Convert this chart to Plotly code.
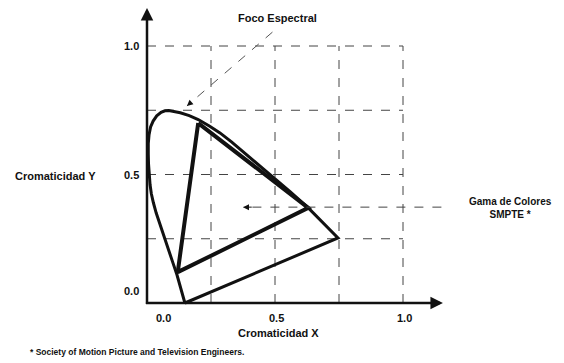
import plotly.graph_objects as go

# ---- data ----
locus_x = [0.148, 0.130, 0.117, 0.100, 0.083, 0.066, 0.050, 0.036, 0.025, 0.017, 0.012, 0.008,
           0.006, 0.005, 0.005, 0.008, 0.014, 0.024, 0.038, 0.055, 0.070, 0.085, 0.105, 0.130,
           0.165, 0.200, 0.245, 0.285, 0.330, 0.400, 0.445, 0.490, 0.560, 0.630, 0.746, 0.148]
locus_y = [0.000, 0.065, 0.110, 0.160, 0.210, 0.260, 0.310, 0.350, 0.390, 0.425, 0.460, 0.500,
           0.540, 0.580, 0.620, 0.655, 0.685, 0.708, 0.728, 0.742, 0.748, 0.749, 0.746, 0.740,
           0.729, 0.714, 0.688, 0.662, 0.627, 0.568, 0.530, 0.492, 0.432, 0.370, 0.253, 0.000]

smpte_x = [0.200, 0.630, 0.120, 0.200]
smpte_y = [0.700, 0.370, 0.120, 0.700]

grid_vals = [0.25, 0.5, 0.75, 1.0]
x_tick_vals = [0.0, 0.5, 1.0]
x_tick_text = ["0.0", "0.5", "1.0"]
y_tick_vals = [0.0, 0.5, 1.0]
y_tick_text = ["0.0", "0.5", "1.0"]

title_text = "Foco Espectral"
gamut_text = "Gama de Colores<br>SMPTE *"
x_title = "Cromaticidad X"
y_title = "Cromaticidad Y"
footnote = "* Society of Motion Picture and Television Engineers."

FONT = "Liberation Sans, Arial, sans-serif"
INK = "#111111"

# page has an 8px body margin: figure is drawn 8px in from the window corner
W, H = 556, 355
X0_PX, Y0_PX = 139, 295      # figure pixels of the data origin
PX_PER_X, PX_PER_Y = 256, 257

fig = go.Figure()

fig.add_trace(go.Scatter(x=locus_x, y=locus_y, mode="lines",
                         line=dict(color=INK, width=3),
                         hoverinfo="skip", showlegend=False))
fig.add_trace(go.Scatter(x=smpte_x, y=smpte_y, mode="lines",
                         line=dict(color=INK, width=4),
                         hoverinfo="skip", showlegend=False))

shapes = []
for v in grid_vals:
    shapes.append(dict(type="line", xref="x", yref="y", x0=0, x1=1.0, y0=v, y1=v,
                       line=dict(color="#444444", width=1, dash="dash"), layer="below"))
    shapes.append(dict(type="line", xref="x", yref="y", x0=v, x1=v, y0=0, y1=1.0,
                       line=dict(color="#444444", width=1, dash="dash"), layer="below"))

# leader line for "Foco Espectral"
foco_tail = (0.49, 1.054)
foco_head = (0.156, 0.767)
shapes.append(dict(type="line", xref="x", yref="y", x0=foco_tail[0], y0=foco_tail[1],
                   x1=foco_head[0], y1=foco_head[1],
                   line=dict(color="#555555", width=1, dash="dash")))
# leader line for gamut label
gam_tail = (1.15, 0.373)
gam_head = (0.375, 0.373)
shapes.append(dict(type="line", xref="x", yref="y", x0=gam_tail[0], y0=gam_tail[1],
                   x1=gam_head[0], y1=gam_head[1],
                   line=dict(color="#444444", width=1, dash="dash")))
fig.update_layout(shapes=shapes)

ann = []
# axes with arrows
ann.append(dict(x=0, y=1.148, ax=0, ay=-0.01, xref="x", yref="y", axref="x", ayref="y",
                showarrow=True, arrowhead=2, arrowsize=1, arrowwidth=2.5, arrowcolor=INK, text=""))
ann.append(dict(x=1.156, y=0, ax=-0.01, ay=0, xref="x", yref="y", axref="x", ayref="y",
                showarrow=True, arrowhead=2, arrowsize=1, arrowwidth=2.5, arrowcolor=INK, text=""))
# small arrow heads of the leaders
fx = foco_head[0] + 0.06 * (foco_tail[0] - foco_head[0])
fy = foco_head[1] + 0.06 * (foco_tail[1] - foco_head[1])
ann.append(dict(x=foco_head[0], y=foco_head[1], ax=fx, ay=fy, xref="x", yref="y",
                axref="x", ayref="y", showarrow=True, arrowhead=2, arrowsize=1.2,
                arrowwidth=1, arrowcolor=INK, text=""))
ann.append(dict(x=gam_head[0], y=gam_head[1], ax=gam_head[0] + 0.04, ay=gam_head[1], xref="x",
                yref="y", axref="x", ayref="y", showarrow=True, arrowhead=2, arrowsize=1.2,
                arrowwidth=1, arrowcolor=INK, text=""))

tf = dict(family=FONT, size=11, color=INK)
for v, t in zip(x_tick_vals, x_tick_text):
    ann.append(dict(x=v, y=0, xref="x", yref="y", text="<b>%s</b>" % t, showarrow=False,
                    yshift=-15, xshift=16 if v == 0 else 1, font=tf))
for v, t in zip(y_tick_vals, y_tick_text):
    ann.append(dict(x=0, y=v, xref="x", yref="y", text="<b>%s</b>" % t, showarrow=False,
                    xanchor="right", xshift=-6, yshift=12 if v == 0 else 0, font=tf))

ann.append(dict(x=0.508, y=1.109, xref="x", yref="y", text="<b>%s</b>" % title_text,
                showarrow=False, font=tf))
ann.append(dict(x=-0.359, y=0.494, xref="x", yref="y", text="<b>%s</b>" % y_title,
                showarrow=False, font=tf))
ann.append(dict(x=0.512, y=-0.117, xref="x", yref="y", text="<b>%s</b>" % x_title,
                showarrow=False, font=tf))
ann.append(dict(x=1.42, y=0.368, xref="x", yref="y", text="<b>%s</b>" % gamut_text,
                showarrow=False, font=dict(family=FONT, size=10, color=INK)))
ann.append(dict(x=-0.465, y=-0.19, xref="x", yref="y", text="<b>%s</b>" % footnote,
                showarrow=False, xanchor="left", font=dict(family=FONT, size=8.5, color=INK)))
fig.update_layout(annotations=ann)

fig.update_layout(
    width=W, height=H, autosize=False,
    margin=dict(l=0, r=0, t=0, b=0),
    paper_bgcolor="white", plot_bgcolor="white",
    xaxis=dict(visible=False, range=[-X0_PX / PX_PER_X, (W - X0_PX) / PX_PER_X], fixedrange=True),
    yaxis=dict(visible=False, range=[-(H - Y0_PX) / PX_PER_Y, Y0_PX / PX_PER_Y], fixedrange=True),
    showlegend=False,
)

fig.write_html("out.html")
